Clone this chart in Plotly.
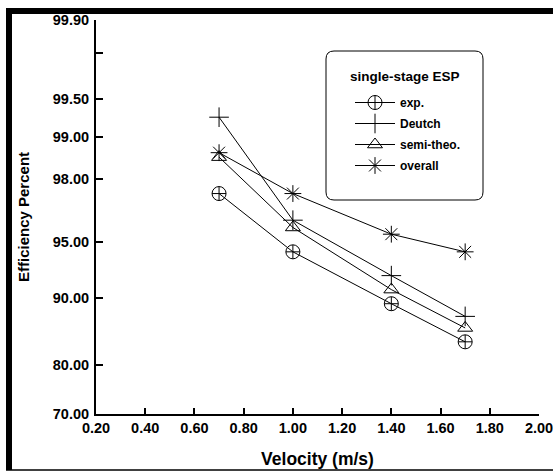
import plotly.graph_objects as go
from statistics import NormalDist

velocity = [0.7, 1.0, 1.4, 1.7]
exp_eff = [97.5, 94.3, 89.3, 84.0]
deutch_eff = [99.3, 96.3, 92.3, 87.7]
semi_eff = [98.6, 95.9, 90.9, 86.1]
overall_eff = [98.7, 97.5, 95.5, 94.3]

y_ticks = [70.0, 80.0, 90.0, 95.0, 98.0, 99.0, 99.5, 99.8, 99.9]
y_ticktext = ["70.00", "80.00", "90.00", "95.00", "98.00", "99.00", "99.50", "", "99.90"]
x_ticks = [0.2, 0.4, 0.6, 0.8, 1.0, 1.2, 1.4, 1.6, 1.8, 2.0]

nd = NormalDist()


def prob(vals):
    return [nd.inv_cdf(v / 100.0) for v in vals]


W, H = 553, 471
L, R, T, B = 96, 14, 20, 57
PW, PH = W - L - R, H - T - B


def px2x(px):
    return (px - L) / PW


def py2y(py):
    return 1 - (py - T) / PH


font = "Liberation Sans, Arial, sans-serif"
fig = go.Figure()

series = [
    ("exp.", exp_eff, "circle-cross-open", 14),
    ("Deutch", deutch_eff, "cross-thin-open", 14),
    ("semi-theo.", semi_eff, "triangle-up-open", 13),
    ("overall", overall_eff, "asterisk-open", 14),
]
for i, (name, vals, sym, sz) in enumerate(series):
    fig.add_trace(go.Scatter(
        x=velocity, y=prob(vals), name=name, mode="lines+markers",
        line=dict(color="black", width=1),
        marker=dict(symbol=sym, size=sz, color="black",
                    line=dict(color="black", width=1)),
        legendgroup="g%d" % i,
    ))

shapes = []
# outer frame
shapes.append(dict(type="line", xref="paper", yref="paper",
                   x0=px2x(9), x1=px2x(9), y0=py2y(8), y1=py2y(470),
                   line=dict(color="black", width=6)))
shapes.append(dict(type="line", xref="paper", yref="paper",
                   x0=px2x(6), x1=px2x(560), y0=py2y(11), y1=py2y(11),
                   line=dict(color="black", width=6)))
shapes.append(dict(type="line", xref="paper", yref="paper",
                   x0=px2x(6), x1=px2x(560), y0=py2y(470), y1=py2y(470),
                   line=dict(color="black", width=1.5)))
# rounded legend box
x0, x1, y0, y1, r = 326, 483, 51, 200, 8
path = (f"M {px2x(x0 + r)} {py2y(y0)} L {px2x(x1 - r)} {py2y(y0)} "
        f"Q {px2x(x1)} {py2y(y0)} {px2x(x1)} {py2y(y0 + r)} "
        f"L {px2x(x1)} {py2y(y1 - r)} Q {px2x(x1)} {py2y(y1)} {px2x(x1 - r)} {py2y(y1)} "
        f"L {px2x(x0 + r)} {py2y(y1)} Q {px2x(x0)} {py2y(y1)} {px2x(x0)} {py2y(y1 - r)} "
        f"L {px2x(x0)} {py2y(y0 + r)} Q {px2x(x0)} {py2y(y0)} {px2x(x0 + r)} {py2y(y0)} Z")
shapes.append(dict(type="path", xref="paper", yref="paper", path=path,
                   line=dict(color="black", width=1), fillcolor="white", layer="below"))

annotations = [dict(text="<b>single-stage ESP</b>", xref="paper", yref="paper",
                    x=px2x(405), y=py2y(76), xanchor="center", yanchor="middle",
                    showarrow=False, font=dict(family=font, size=13.5, color="black"))]

fig.update_layout(
    width=W, height=H,
    margin=dict(l=L, r=R, t=T, b=B, autoexpand=False),
    paper_bgcolor="white", plot_bgcolor="white",
    font=dict(family=font, size=12, color="black"),
    shapes=shapes,
    annotations=annotations,
    showlegend=True,
    legend=dict(
        x=px2x(350), y=py2y(88), xanchor="left", yanchor="top",
        bgcolor="rgba(0,0,0,0)", borderwidth=0,
        font=dict(family=font, size=12, color="black", weight="bold"),
        tracegroupgap=2, itemwidth=40,
    ),
    xaxis=dict(
        range=[0.2, 2.0], tickvals=x_ticks, ticktext=["%.2f" % v for v in x_ticks],
        ticks="inside", ticklen=6, tickwidth=2, tickcolor="black",
        showline=True, linecolor="black", linewidth=2, mirror=False,
        showgrid=False, zeroline=False, automargin=False,
        ticklabeloverflow="allow",
        tickfont=dict(family=font, size=14.5, color="black", weight="bold"),
        title=dict(text="<b>Velocity (m/s)</b>", font=dict(family=font, size=17.5, color="black"),
                   standoff=17),
    ),
    yaxis=dict(
        range=[nd.inv_cdf(0.70), nd.inv_cdf(0.999)],
        tickvals=prob(y_ticks), ticktext=y_ticktext,
        ticks="inside", ticklen=7, tickwidth=2, tickcolor="black",
        showline=True, linecolor="black", linewidth=2, mirror=False,
        showgrid=False, zeroline=False, automargin=False,
        ticklabeloverflow="allow",
        ticklabelstandoff=2,
        tickfont=dict(family=font, size=14.5, color="black", weight="bold"),
        title=dict(text="<b>Efficiency Percent</b>", font=dict(family=font, size=15, color="black"),
                   standoff=20),
    ),
)

fig.write_html("out.html")
